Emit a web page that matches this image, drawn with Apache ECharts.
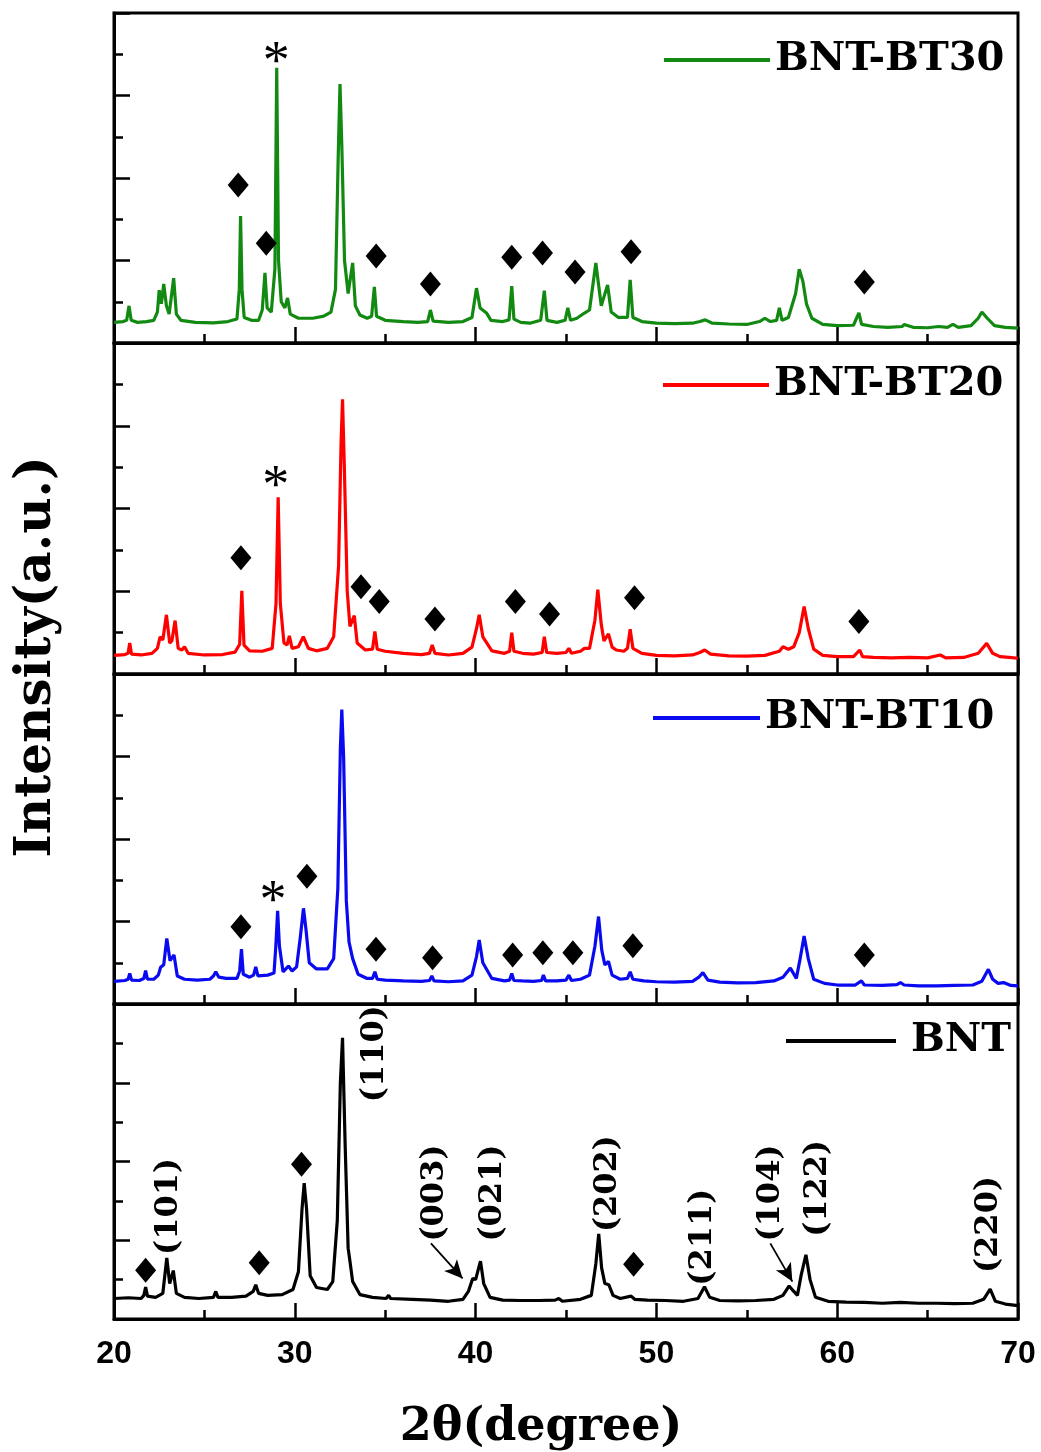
<!DOCTYPE html>
<html>
<head>
<meta charset="utf-8">
<script src="https://cdn.jsdelivr.net/npm/echarts@6/dist/echarts.min.js"></script>
<style>
  html, body { margin: 0; padding: 0; background: #fff; }
  #chart { width: 1041px; height: 1452px; }
</style>
</head>
<body>
<div id="chart"></div>
<script>
// XRD patterns, [2theta, intensity] (panel units, 0..8)
const bt30 = [
  [20.0,0.50],[20.5,0.52],[20.7,0.55],[20.83,0.90],[20.95,0.55],[21.3,0.50],[21.8,0.52],[22.2,0.55],
  [22.4,0.75],[22.5,1.28],[22.62,0.95],[22.75,1.43],[22.9,0.90],[23.05,0.70],[23.3,1.57],[23.45,0.70],
  [23.7,0.55],[24.5,0.50],[25.5,0.49],[26.3,0.52],[26.8,0.58],[26.93,1.30],[27.0,3.08],[27.08,1.30],
  [27.2,0.62],[27.6,0.55],[28.0,0.55],[28.2,0.80],[28.35,1.70],[28.47,0.85],[28.7,0.75],[28.9,1.80],
  [29.0,6.67],[29.1,2.00],[29.25,1.00],[29.45,0.85],[29.6,1.09],[29.75,0.70],[30.2,0.60],[31.0,0.60],
  [31.6,0.65],[32.0,0.75],[32.25,1.30],[32.4,4.50],[32.5,6.28],[32.6,4.80],[32.75,2.00],[32.95,1.20],
  [33.2,1.94],[33.35,0.90],[33.6,0.68],[34.0,0.60],[34.25,0.65],[34.4,1.36],[34.52,0.65],[35.0,0.55],
  [36.0,0.52],[36.8,0.50],[37.35,0.52],[37.5,0.80],[37.65,0.53],[38.5,0.50],[39.3,0.52],[39.8,0.62],
  [40.05,1.33],[40.25,0.85],[40.6,0.73],[40.85,0.55],[41.5,0.52],[41.85,0.56],[42.0,1.38],[42.12,0.58],
  [42.5,0.50],[43.0,0.48],[43.6,0.55],[43.8,1.27],[43.95,0.55],[44.5,0.50],[44.95,0.55],[45.1,0.85],
  [45.25,0.55],[45.6,0.60],[46.0,0.72],[46.3,0.80],[46.65,1.94],[46.95,0.90],[47.3,1.41],[47.5,0.75],
  [47.9,0.62],[48.4,0.62],[48.55,1.53],[48.7,0.62],[49.2,0.52],[50.0,0.48],[51.0,0.47],[52.0,0.48],
  [52.4,0.52],[52.7,0.56],[53.1,0.48],[54.0,0.46],[55.0,0.45],[55.7,0.52],[56.0,0.60],[56.3,0.52],
  [56.65,0.55],[56.8,0.85],[56.95,0.55],[57.3,0.62],[57.7,1.20],[57.9,1.79],[58.1,1.50],[58.3,0.95],
  [58.6,0.60],[59.2,0.45],[60.0,0.42],[60.9,0.43],[61.2,0.73],[61.35,0.45],[62.0,0.40],[62.8,0.38],
  [63.6,0.40],[63.7,0.45],[64.2,0.38],[65.0,0.37],[65.6,0.40],[66.1,0.38],[66.4,0.45],[66.7,0.38],
  [67.4,0.42],[67.8,0.60],[68.0,0.75],[68.3,0.60],[68.7,0.42],[69.3,0.38],[70.0,0.36]
];
const bt20 = [
  [20.0,0.45],[20.6,0.47],[20.78,0.50],[20.87,0.75],[20.97,0.48],[21.5,0.46],[22.1,0.50],[22.4,0.62],
  [22.55,0.90],[22.7,0.82],[22.9,1.43],[23.08,0.75],[23.2,0.80],[23.38,1.29],[23.55,0.62],[23.75,0.58],
  [23.9,0.66],[24.1,0.50],[25.0,0.46],[26.0,0.47],[26.7,0.53],[26.95,0.72],[27.07,2.01],[27.19,0.70],
  [27.5,0.56],[28.2,0.55],[28.75,0.62],[28.96,1.70],[29.08,4.27],[29.2,1.70],[29.4,0.75],[29.57,0.70],
  [29.7,0.92],[29.85,0.62],[30.2,0.66],[30.47,0.90],[30.75,0.62],[31.2,0.56],[31.8,0.62],[32.15,0.90],
  [32.42,2.60],[32.56,5.60],[32.64,6.64],[32.74,5.00],[32.9,2.00],[33.05,1.15],[33.29,1.41],[33.45,0.75],
  [33.9,0.58],[34.3,0.60],[34.43,1.03],[34.56,0.60],[35.0,0.55],[36.0,0.50],[37.0,0.47],[37.45,0.50],
  [37.6,0.70],[37.75,0.50],[38.5,0.46],[39.3,0.50],[39.8,0.65],[40.05,1.10],[40.2,1.43],[40.4,0.90],
  [40.9,0.56],[41.6,0.50],[41.88,0.55],[42.0,1.00],[42.12,0.55],[42.6,0.50],[43.2,0.48],[43.68,0.52],
  [43.8,0.90],[43.93,0.52],[44.5,0.50],[45.0,0.52],[45.16,0.62],[45.3,0.50],[45.8,0.55],[46.02,0.62],
  [46.3,0.62],[46.6,1.30],[46.76,2.04],[46.95,1.20],[47.1,0.80],[47.35,0.97],[47.55,0.65],[47.78,0.58],
  [48.2,0.55],[48.4,0.62],[48.55,1.08],[48.7,0.62],[49.2,0.50],[50.0,0.45],[51.0,0.44],[52.0,0.46],
  [52.4,0.52],[52.67,0.58],[53.0,0.48],[54.0,0.44],[55.0,0.43],[56.0,0.45],[56.8,0.55],[57.0,0.66],
  [57.3,0.60],[57.6,0.66],[57.9,1.00],[58.17,1.63],[58.4,1.10],[58.7,0.60],[59.2,0.45],[60.0,0.42],
  [60.9,0.42],[61.25,0.58],[61.4,0.42],[62.0,0.40],[63.0,0.39],[64.0,0.40],[65.0,0.39],[65.7,0.46],
  [66.0,0.39],[67.0,0.40],[67.8,0.50],[68.27,0.74],[68.6,0.50],[69.0,0.42],[69.5,0.40],[70.0,0.38]
];
const bt10 = [
  [20.0,0.55],[20.6,0.57],[20.78,0.60],[20.87,0.74],[20.97,0.58],[21.4,0.57],[21.65,0.62],[21.75,0.81],
  [21.85,0.60],[22.2,0.60],[22.45,0.70],[22.58,0.89],[22.75,0.95],[22.92,1.59],[23.1,1.05],[23.32,1.19],
  [23.5,0.68],[23.9,0.60],[24.6,0.58],[25.3,0.60],[25.5,0.68],[25.63,0.78],[25.8,0.65],[26.2,0.62],
  [26.8,0.62],[26.95,0.80],[27.05,1.33],[27.15,0.72],[27.5,0.65],[27.72,0.70],[27.84,0.90],[27.96,0.68],
  [28.5,0.70],[28.85,0.75],[28.95,1.40],[29.05,2.26],[29.15,1.40],[29.35,0.78],[29.65,0.92],[29.85,0.80],
  [30.1,0.90],[30.3,1.60],[30.48,2.32],[30.62,1.80],[30.8,1.00],[31.2,0.85],[31.8,0.85],[32.15,1.10],
  [32.38,2.80],[32.52,6.20],[32.6,7.14],[32.7,6.00],[32.85,2.50],[33.0,1.50],[33.2,1.10],[33.5,0.72],
  [34.0,0.62],[34.3,0.62],[34.43,0.78],[34.56,0.60],[35.0,0.58],[36.0,0.56],[37.0,0.55],[37.45,0.57],
  [37.58,0.68],[37.7,0.56],[38.5,0.54],[39.3,0.56],[39.8,0.70],[40.05,1.15],[40.2,1.55],[40.4,1.00],
  [40.9,0.62],[41.6,0.56],[41.88,0.58],[42.0,0.74],[42.12,0.57],[42.6,0.56],[43.2,0.55],[43.65,0.57],
  [43.75,0.70],[43.87,0.56],[44.5,0.56],[45.0,0.58],[45.16,0.70],[45.3,0.57],[45.8,0.60],[46.3,0.70],
  [46.6,1.40],[46.8,2.12],[46.98,1.30],[47.15,0.95],[47.35,1.03],[47.55,0.70],[48.0,0.60],[48.4,0.62],
  [48.55,0.78],[48.7,0.60],[49.3,0.56],[50.0,0.54],[51.0,0.53],[52.0,0.55],[52.35,0.65],[52.57,0.76],
  [52.85,0.58],[53.5,0.53],[54.5,0.51],[55.5,0.52],[56.5,0.56],[57.0,0.65],[57.41,0.87],[57.74,0.62],
  [57.95,1.10],[58.17,1.65],[58.4,1.10],[58.7,0.60],[59.3,0.50],[60.0,0.46],[61.0,0.46],[61.34,0.56],
  [61.5,0.46],[62.5,0.45],[63.3,0.47],[63.5,0.52],[63.7,0.46],[64.5,0.44],[65.5,0.44],[66.5,0.45],
  [67.5,0.46],[68.0,0.55],[68.36,0.84],[68.6,0.60],[68.9,0.50],[69.2,0.52],[69.6,0.45],[70.0,0.44]
];
const bnt = [
  [20.0,0.52],[20.8,0.54],[21.5,0.52],[21.65,0.60],[21.75,0.81],[21.85,0.58],[22.3,0.55],[22.7,0.65],
  [22.92,1.55],[23.08,0.90],[23.28,1.23],[23.45,0.65],[23.9,0.55],[24.7,0.52],[25.5,0.55],[25.63,0.70],
  [25.75,0.55],[26.5,0.55],[27.3,0.58],[27.7,0.70],[27.84,0.87],[28.0,0.65],[28.5,0.60],[29.3,0.62],
  [29.9,0.75],[30.2,1.20],[30.4,2.80],[30.52,3.45],[30.65,2.80],[30.85,1.10],[31.2,0.80],[31.8,0.75],
  [32.1,0.95],[32.35,2.50],[32.52,6.00],[32.64,7.14],[32.78,4.50],[32.95,1.80],[33.05,1.47],[33.2,0.95],
  [33.6,0.62],[34.3,0.55],[35.05,0.52],[35.19,0.60],[35.3,0.52],[36.5,0.50],[37.5,0.48],[38.5,0.45],
  [39.3,0.50],[39.6,0.70],[39.84,1.03],[40.0,1.00],[40.27,1.47],[40.45,0.90],[40.8,0.55],[41.5,0.48],
  [42.5,0.47],[43.5,0.47],[44.4,0.48],[44.6,0.52],[44.8,0.45],[45.8,0.50],[46.4,0.60],[46.65,1.40],
  [46.81,2.16],[46.97,1.30],[47.15,0.90],[47.37,0.87],[47.6,0.60],[48.0,0.52],[48.6,0.58],[48.8,0.50],
  [49.5,0.48],[50.5,0.47],[51.5,0.45],[52.3,0.52],[52.66,0.82],[52.95,0.55],[53.5,0.47],[54.5,0.46],
  [55.5,0.47],[56.5,0.50],[57.0,0.60],[57.34,0.84],[57.6,0.70],[57.8,0.60],[58.0,1.10],[58.27,1.63],
  [58.5,1.00],[58.8,0.55],[59.5,0.45],[60.5,0.43],[61.5,0.42],[62.5,0.40],[63.5,0.42],[64.5,0.40],
  [65.5,0.40],[66.5,0.39],[67.5,0.40],[68.1,0.50],[68.46,0.76],[68.75,0.45],[69.3,0.38],[70.0,0.34]
];

const seriesNames = ['BNT-BT30', 'BNT-BT20', 'BNT-BT10', 'BNT'];
const seriesColors = ['#128a12', '#ff0000', '#0a0af0', '#000000'];

// diamond (second phase) marks per panel
const bt30Diamonds = [[26.87,3.83],[28.42,2.42],[34.5,2.11],[37.5,1.43],[42.0,2.08],[43.7,2.18],[45.5,1.72],[48.6,2.21],[61.5,1.48]];
const bt20Diamonds = [[27.02,2.81],[33.66,2.11],[34.67,1.75],[37.75,1.33],[42.2,1.75],[44.09,1.45],[48.79,1.84],[61.2,1.27]];
const bt10Diamonds = [[27.02,1.87],[30.67,3.10],[34.49,1.33],[37.62,1.12],[42.05,1.19],[43.72,1.24],[45.38,1.24],[48.7,1.41],[61.5,1.19]];
const bntDiamonds = [[21.75,1.24],[28.03,1.43],[30.37,3.93],[48.74,1.39]];

// asterisk marks (one per doped panel)
const stars = [[28.97,7.05],[28.95,4.78],[28.8,2.75]];

// Miller indices on the BNT pattern
const millerNames = ['(101)','(110)','(003)','(021)','(202)','(211)','(104)','(122)','(220)'];
const millerPos = [[23.05,2.86],[34.4,6.74],[37.72,3.2],[40.95,3.2],[47.3,3.44],[52.57,2.08],[56.3,3.2],[58.9,3.32],[68.36,2.4]];
const arrows = [[[37.53,1.92],[39.28,1.03]], [[56.3,1.92],[57.52,0.95]]];

const tops = [13, 343, 674, 1004];
const heights = [330, 331, 330, 330];
const legendLeft = [659, 658, 648, 781];
const legendTop = [33, 358, 691, 1014];
const legendLine = [106, 106, 107, 110];

const serif = 'DejaVu Serif';
const patterns = [bt30, bt20, bt10, bnt];
const diamonds = [bt30Diamonds, bt20Diamonds, bt10Diamonds, bntDiamonds];

const chart = echarts.init(document.getElementById('chart'));

const grid = tops.map((t, i) => ({
  left: 114, right: 23, top: t, height: heights[i],
  show: true, borderColor: '#000', borderWidth: 3, backgroundColor: 'transparent'
}));

const xAxis = tops.map((t, i) => ({
  gridIndex: i, type: 'value', min: 20, max: 70, interval: 10,
  axisLine: { show: true, onZero: false, lineStyle: { color: '#000', width: 3 } },
  axisTick: { show: true, inside: true, length: 16, lineStyle: { color: '#000', width: 2.5 } },
  minorTick: { show: true, splitNumber: 2, length: 9, lineStyle: { color: '#000', width: 2.5 } },
  splitLine: { show: false },
  axisLabel: {
    show: i === 3, margin: 19, showMinLabel: true, showMaxLabel: true,
    fontFamily: 'Liberation Sans', fontWeight: 'bold', fontSize: 32, color: '#000'
  },
  name: i === 3 ? '2θ(degree)' : '',
  nameLocation: 'middle', nameGap: 86,
  nameTextStyle: {
    fontFamily: serif, fontWeight: 'bold', fontSize: 46, color: '#000',
    padding: [0, 50, 0, 0]
  }
}));

const yAxis = tops.map((t, i) => ({
  gridIndex: i, type: 'value', min: 0, max: 8, interval: 2,
  axisLine: { show: true, onZero: false, lineStyle: { color: '#000', width: 3 } },
  axisTick: { show: true, inside: true, length: 16, lineStyle: { color: '#000', width: 2.5 } },
  minorTick: { show: true, splitNumber: 2, length: 9, lineStyle: { color: '#000', width: 2.5 } },
  splitLine: { show: false },
  axisLabel: { show: false }
}));

const hidden = { color: 'rgba(0,0,0,0)', opacity: 1 };
const series = [];
patterns.forEach((p, i) => {
  const s = {
    name: seriesNames[i], type: 'line', xAxisIndex: i, yAxisIndex: i,
    data: p, showSymbol: false, symbol: 'none', color: seriesColors[i],
    lineStyle: { width: 3.2, color: seriesColors[i] }, z: 3, silent: true
  };
  if (i === 3) {
    s.markLine = {
      silent: true, symbol: ['none', 'arrow'], symbolSize: [13, 18],
      label: { show: false },
      lineStyle: { color: '#000', width: 1.8, type: 'solid' },
      data: arrows.map(a => [{ coord: a[0] }, { coord: a[1] }])
    };
  }
  series.push(s);
  series.push({
    type: 'scatter', xAxisIndex: i, yAxisIndex: i, data: diamonds[i],
    symbol: 'diamond', symbolSize: [21, 25], itemStyle: { color: '#000', opacity: 1 },
    z: 4, silent: true
  });
});
stars.forEach((s, i) => {
  series.push({
    type: 'scatter', xAxisIndex: i, yAxisIndex: i, data: [s],
    symbolSize: 2, itemStyle: hidden, silent: true, z: 4,
    label: {
      show: true, position: 'inside', formatter: '*', offset: [0, 12],
      fontFamily: 'Liberation Serif', fontSize: 54, color: '#000', opacity: 1
    }
  });
});
series.push({
  type: 'scatter', xAxisIndex: 3, yAxisIndex: 3,
  data: millerNames.map((n, k) => ({ name: n, value: millerPos[k] })),
  symbolSize: 2, itemStyle: hidden, silent: true, z: 4,
  label: {
    show: true, position: 'inside', rotate: 90, formatter: '{b}',
    fontFamily: serif, fontWeight: 'bold', fontSize: 32, color: '#000', opacity: 1
  }
});

const legend = seriesNames.map((n, i) => ({
  data: [n], left: legendLeft[i], top: legendTop[i], icon: 'rect',
  itemWidth: legendLine[i], itemHeight: 4, selectedMode: false,
  textStyle: {
    fontFamily: serif, fontWeight: 'bold', fontSize: 40, lineHeight: 44, color: '#000',
    padding: i === 3 ? [0, 0, 0, 10] : 0
  }
}));

chart.setOption({
  animation: false,
  backgroundColor: '#fff',
  grid, xAxis, yAxis, legend, series,
  graphic: [{
    type: 'text', x: 37, y: 657, rotation: Math.PI / 2, silent: true,
    style: {
      text: 'Intensity(a.u.)', fontFamily: serif, fontWeight: 'bold', fontSize: 50,
      fill: '#000', align: 'center', verticalAlign: 'middle'
    }
  }]
});
</script>
</body>
</html>
